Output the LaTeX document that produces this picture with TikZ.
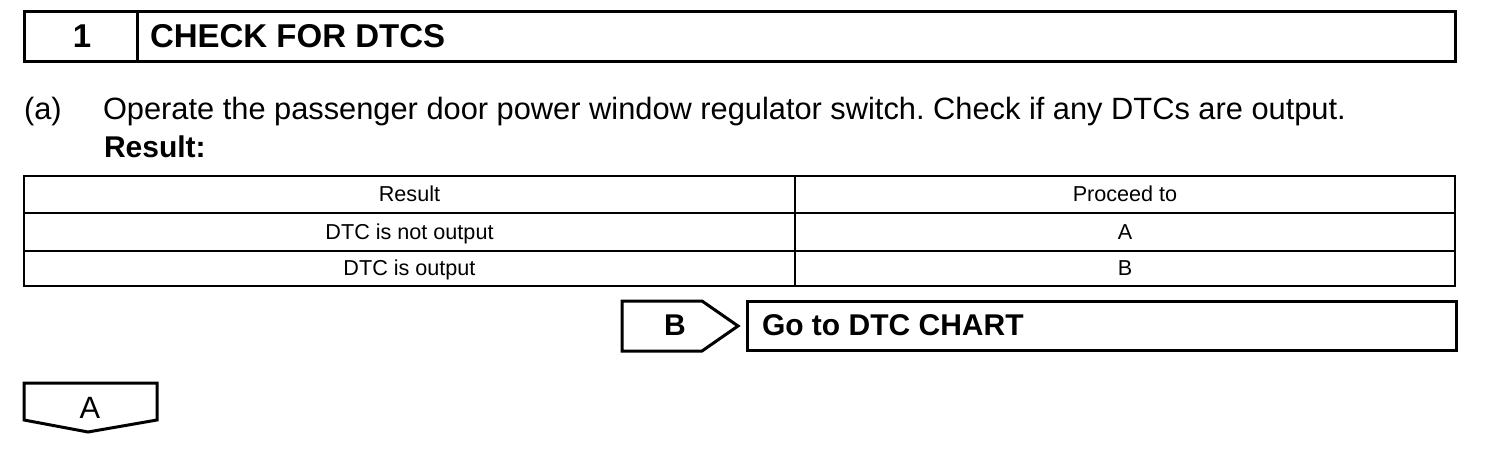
\documentclass[tikz,border=0pt]{standalone}
\usepackage{fontspec}
\setmainfont{Liberation Sans}
\frenchspacing
\begin{document}
\begin{tikzpicture}[x=1pt,y=-1pt,
  frame/.style={draw=black,line width=3pt,line join=miter},
  tframe/.style={draw=black,line width=2.5pt},
  txt/.style={inner sep=0pt,outer sep=0pt},
  hdr/.style={txt,font=\fontsize{33}{36}\selectfont\bfseries},
  body/.style={txt,font=\fontsize{30.8}{34}\selectfont},
  bodyb/.style={txt,font=\fontsize{30}{34}\selectfont\bfseries},
  cell/.style={txt,font=\fontsize{21.6}{24}\selectfont,anchor=base}]
\useasboundingbox (0,0) rectangle (1504,452);
\fill[white] (0,0) rectangle (1504,452);
% header
\draw[frame] (24,12) rectangle (1455,62);
\draw[frame] (137,12) -- (137,62);
\node[hdr,anchor=base] (num) at (82,48) {1};
\node[hdr,anchor=base west] (title) at (150,48) {CHECK FOR DTCS};
% step text
\node[body,anchor=base west] (lbl) at (24,119) {(a)};
\node[body,anchor=base west] (step) at (103,119) {Operate the passenger door power window regulator switch. Check if any DTCs are output.};
\node[bodyb,anchor=base west] (res) at (104,157) {Result:};
% table
\draw[tframe] (24,176) rectangle (1455,286);
\draw[tframe] (24,213) -- (1455,213);
\draw[tframe] (24,251) -- (1455,251);
\draw[tframe] (795,176) -- (795,286);
\node[cell] (h1) at (409.5,201) {Result};
\node[cell] (h2) at (1125,201) {Proceed to};
\node[cell] (r1a) at (409.5,239) {DTC is not output};
\node[cell] (r1b) at (1125,239) {A};
\node[cell] (r2a) at (409.5,275) {DTC is output};
\node[cell] (r2b) at (1125,275) {B};
% B branch
\draw[frame] (622,301) -- (702,301) -- (738,326) -- (702,351) -- (622,351) -- cycle;
\node[bodyb,anchor=base] (bl) at (675,335) {B};
\draw[frame] (747,301) rectangle (1456,350);
\node[bodyb,anchor=base west] (go) at (762,335) {Go to DTC CHART};
% A branch
\draw[frame] (24,383) -- (157,383) -- (157,420) -- (88,432) -- (24,420) -- cycle;
\node[body,anchor=base] (al) at (90,418) {A};
\end{tikzpicture}
\end{document}
